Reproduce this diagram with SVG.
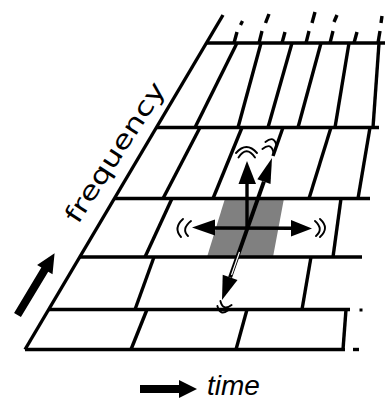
<svg xmlns="http://www.w3.org/2000/svg" width="388" height="400" viewBox="0 0 388 400">
<style>
.g{stroke:#000;stroke-width:3.4;fill:none;stroke-linecap:butt}
.w{stroke:#000;stroke-width:1.9;fill:none;stroke-linecap:round}
.k{fill:#000}
</style>
<rect width="388" height="400" fill="#fff"/>
<g id="plane">
  <polygon id="shaded-cell" points="225,198.5 284,198.5 273,257 207,257" fill="#808080"/>
  <g id="grid" class="g">
    <line x1="25" y1="349.5" x2="223" y2="15"/>
    <line x1="25" y1="349.5" x2="345" y2="349.5"/>
    <line x1="49" y1="309.5" x2="350" y2="309.5"/>
    <line x1="79" y1="257" x2="362" y2="257"/>
    <line x1="114" y1="198.5" x2="370" y2="198.5"/>
    <line x1="156" y1="127.5" x2="379" y2="127.5"/>
    <line x1="206" y1="43" x2="385" y2="43"/>
    <!-- row 0 -->
    <line x1="147" y1="309.5" x2="131" y2="349.5"/>
    <line x1="247" y1="309.5" x2="236" y2="349.5"/>
    <line x1="346" y1="309.5" x2="343" y2="349.5"/>
    <!-- row 1 -->
    <line x1="154" y1="257" x2="135" y2="309.5"/>
    <line x1="311" y1="257" x2="302" y2="309.5"/>
    <!-- row 2 -->
    <line x1="172" y1="198.5" x2="145" y2="257"/>
    <line x1="341" y1="198.5" x2="333" y2="257"/>
    <!-- row 3 -->
    <line x1="200" y1="127.5" x2="163" y2="198.5"/>
    <line x1="242" y1="127.5" x2="213" y2="198.5"/>
    <line x1="283" y1="127.5" x2="273" y2="156"/>
    <line x1="331" y1="127.5" x2="309" y2="198.5"/>
    <line x1="370" y1="127.5" x2="358" y2="198.5"/>
    <!-- row 4 -->
    <line x1="237" y1="43" x2="195" y2="127.5"/>
    <line x1="261" y1="43" x2="238" y2="127.5"/>
    <line x1="292" y1="43" x2="268" y2="127.5"/>
    <line x1="321" y1="43" x2="298" y2="127.5"/>
    <line x1="349" y1="43" x2="335" y2="127.5"/>
    <line x1="379" y1="43" x2="373" y2="127.5"/>
    <!-- stubs above top row -->
    <line x1="234" y1="43" x2="237" y2="32"/>
    <line x1="259" y1="43" x2="262" y2="31"/>
    <line x1="282" y1="43" x2="285" y2="32"/>
    <line x1="306" y1="43" x2="309" y2="31"/>
    <line x1="330" y1="43" x2="333" y2="31"/>
    <line x1="354" y1="43" x2="357" y2="32"/>
    <line x1="378" y1="43" x2="380" y2="31"/>
    <!-- far dashes -->
    <line x1="240.5" y1="25" x2="242.5" y2="21"/>
    <line x1="265.5" y1="23" x2="269" y2="14"/>
    <line x1="312" y1="23" x2="315" y2="12"/>
    <line x1="334" y1="22" x2="337" y2="15"/>
    <line x1="381" y1="23" x2="382" y2="16"/>
    <!-- right side marks -->
    <line x1="353" y1="349.5" x2="359" y2="349.5"/>
  </g>
  <rect x="359.5" y="308.5" width="3" height="3" class="k"/>
</g>
<g id="connectors">
  <g id="arrow-horizontal">
    <line x1="212" y1="228" x2="294" y2="228.3" stroke="#000" stroke-width="3.6"/>
    <polygon class="k" points="192,227.5 215,219.5 215,235.5"/>
    <polygon class="k" points="312,228.5 291,220 291,236.5"/>
  </g>
  <g id="arrow-vertical">
    <line x1="247" y1="228" x2="247" y2="182" stroke="#000" stroke-width="3.4"/>
    <polygon class="k" points="247,161 238.5,184 256,184"/>
  </g>
  <g id="arrow-diagonal">
    <line x1="230.1" y1="277.4" x2="263.9" y2="181.6" stroke="#000" stroke-width="4"/>
    <line x1="239.5" y1="252" x2="231.5" y2="275" stroke="#fff" stroke-width="1.2"/>
    <polygon class="k" points="272,158 270.5,184 257.3,179.2"/>
    <polygon class="k" points="222,300 237.5,280 222.7,274.7"/>
  </g>
  <g id="waves">
    <path class="w" d="M236,153 Q246.5,141 257,153"/>
    <path class="w" d="M238.5,157.5 Q246.5,145 255,157.5"/>
    <path class="w" d="M183,219 Q173,228 181,237"/>
    <path class="w" d="M191,221 Q181,229 188,236"/>
    <path class="w" d="M315,221 Q324,229 316,236"/>
    <path class="w" d="M320,219 Q330,228 320,237"/>
    <path class="w" d="M262.4,149 Q271.4,141.6 273.6,153"/>
    <path class="w" d="M265.4,142 Q274.4,134.6 276.6,146"/>
    <path class="w" d="M220.4,301 Q223,311.5 231.6,305"/>
    <path class="w" d="M217.4,306 Q220,316.5 228.6,310"/>
  </g>
</g>
<g id="labels">
  <g id="freq-label">
    <polygon class="k" points="0,-4 53,-4 53,-9 72,0 53,9 53,4 0,4" transform="translate(17.5,315) rotate(-59)"/>
    <text x="0" y="0" transform="translate(122,157) rotate(-57)" text-anchor="middle" font-family="DejaVu Sans, sans-serif" font-size="25" textLength="162" lengthAdjust="spacingAndGlyphs">frequency</text>
  </g>
  <g id="time-label">
    <polygon class="k" points="0,-4 39,-4 39,-9 57,0 39,9 39,4 0,4" transform="translate(140,389)"/>
    <text x="207" y="395" font-family="Liberation Sans, Arial, sans-serif" font-style="italic" font-size="28">time</text>
  </g>
</g>
</svg>
